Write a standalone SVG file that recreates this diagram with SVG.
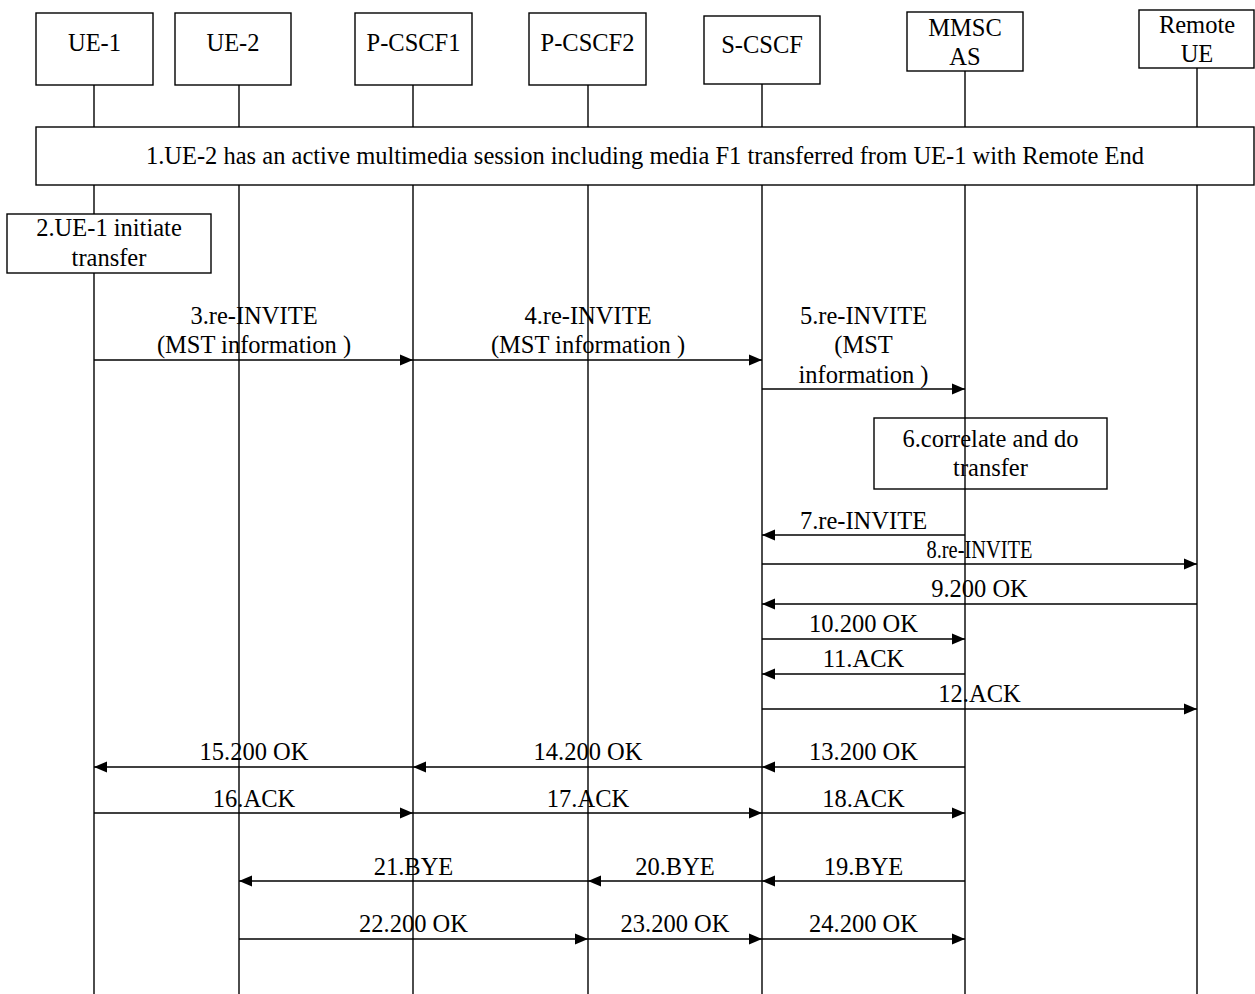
<svg xmlns="http://www.w3.org/2000/svg" width="1255" height="994" viewBox="0 0 1255 994">
<defs>
<marker id="ah" markerUnits="userSpaceOnUse" markerWidth="14" markerHeight="12" refX="13" refY="6" orient="auto">
<path d="M0,0.5 L13,6 L0,11.5 z" fill="#000"/>
</marker>
<style>
.box{fill:#fff;stroke:#000;stroke-width:1.4}
.open{fill:none;stroke:#000;stroke-width:1.4}
.life{stroke:#000;stroke-width:1.4;fill:none}
.msg{stroke:#000;stroke-width:1.4;fill:none;marker-end:url(#ah)}
text{font-family:"Liberation Serif","Times New Roman",serif;font-size:24.5px;fill:#000;text-anchor:middle}
</style>
</defs>
<rect width="1255" height="994" fill="#fff"/>
<g id="lifelines">
<line class="life" x1="94" y1="85" x2="94" y2="994"/>
<line class="life" x1="239" y1="85" x2="239" y2="994"/>
<line class="life" x1="413" y1="85" x2="413" y2="994"/>
<line class="life" x1="588" y1="85" x2="588" y2="994"/>
<line class="life" x1="762" y1="84" x2="762" y2="994"/>
<line class="life" x1="965" y1="71" x2="965" y2="994"/>
<line class="life" x1="1197" y1="68" x2="1197" y2="994"/>
</g>
<g id="ue1"><rect class="box" x="36" y="13" width="117" height="72"/><text x="94.5" y="51">UE-1</text></g>
<g id="ue2"><rect class="box" x="175" y="13" width="116" height="72"/><text x="233" y="51">UE-2</text></g>
<g id="pcscf1"><rect class="box" x="355" y="13" width="117" height="72"/><text x="413.5" y="51">P-CSCF1</text></g>
<g id="pcscf2"><rect class="box" x="529" y="13" width="117" height="72"/><text x="587.5" y="51">P-CSCF2</text></g>
<g id="scscf"><rect class="box" x="704" y="16" width="116" height="68"/><text x="762" y="53">S-CSCF</text></g>
<g id="mmsc"><rect class="box" x="907" y="12" width="116" height="59"/><text x="965" y="36">MMSC</text><text x="965" y="65">AS</text></g>
<g id="remote"><rect class="box" x="1139" y="10" width="115" height="58"/><text x="1197" y="33">Remote</text><text x="1197" y="62">UE</text></g>
<g id="step1"><rect class="box" x="36" y="127" width="1218" height="58"/><text x="645" y="164">1.UE-2 has an active multimedia session including media F1 transferred from UE-1 with Remote End</text></g>
<g id="step2"><rect class="box" x="7" y="214" width="204" height="59"/><text x="109" y="236">2.UE-1 initiate</text><text x="109" y="266">transfer</text></g>
<g id="step6"><rect class="open" x="874" y="418" width="233" height="71"/><text x="990.5" y="447">6.correlate and do</text><text x="990.5" y="476">transfer</text></g>
<g id="connectors">
<line class="msg" x1="94" y1="360" x2="413" y2="360"/>
<line class="msg" x1="413" y1="360" x2="762" y2="360"/>
<line class="msg" x1="762" y1="389" x2="965" y2="389"/>
<line class="msg" x1="965" y1="535" x2="762" y2="535"/>
<line class="msg" x1="762" y1="564" x2="1197" y2="564"/>
<line class="msg" x1="1197" y1="604" x2="762" y2="604"/>
<line class="msg" x1="762" y1="639" x2="965" y2="639"/>
<line class="msg" x1="965" y1="674" x2="762" y2="674"/>
<line class="msg" x1="762" y1="709" x2="1197" y2="709"/>
<line class="msg" x1="965" y1="767" x2="762" y2="767"/>
<line class="msg" x1="762" y1="767" x2="413" y2="767"/>
<line class="msg" x1="413" y1="767" x2="94" y2="767"/>
<line class="msg" x1="94" y1="813" x2="413" y2="813"/>
<line class="msg" x1="413" y1="813" x2="762" y2="813"/>
<line class="msg" x1="762" y1="813" x2="965" y2="813"/>
<line class="msg" x1="965" y1="881" x2="762" y2="881"/>
<line class="msg" x1="762" y1="881" x2="588" y2="881"/>
<line class="msg" x1="588" y1="881" x2="239" y2="881"/>
<line class="msg" x1="239" y1="939" x2="588" y2="939"/>
<line class="msg" x1="588" y1="939" x2="762" y2="939"/>
<line class="msg" x1="762" y1="939" x2="965" y2="939"/>
</g>
<g id="labels">
<text x="254" y="324">3.re-INVITE</text><text x="254" y="353">(MST information )</text>
<text x="588" y="324">4.re-INVITE</text><text x="588" y="353">(MST information )</text>
<text x="863.5" y="324">5.re-INVITE</text><text x="863.5" y="353">(MST</text><text x="863.5" y="383">information )</text>
<text x="863.5" y="529">7.re-INVITE</text>
<text x="979.5" y="558" textLength="106" lengthAdjust="spacingAndGlyphs">8.re-INVITE</text>
<text x="979.5" y="597">9.200 OK</text>
<text x="863.5" y="632">10.200 OK</text>
<text x="863.5" y="667">11.ACK</text>
<text x="979.5" y="702">12.ACK</text>
<text x="863.5" y="760">13.200 OK</text>
<text x="588" y="760">14.200 OK</text>
<text x="254" y="760">15.200 OK</text>
<text x="254" y="807">16.ACK</text>
<text x="588" y="807">17.ACK</text>
<text x="863.5" y="807">18.ACK</text>
<text x="863.5" y="875">19.BYE</text>
<text x="675" y="875">20.BYE</text>
<text x="413.5" y="875">21.BYE</text>
<text x="413.5" y="932">22.200 OK</text>
<text x="675" y="932">23.200 OK</text>
<text x="863.5" y="932">24.200 OK</text>
</g>
</svg>
